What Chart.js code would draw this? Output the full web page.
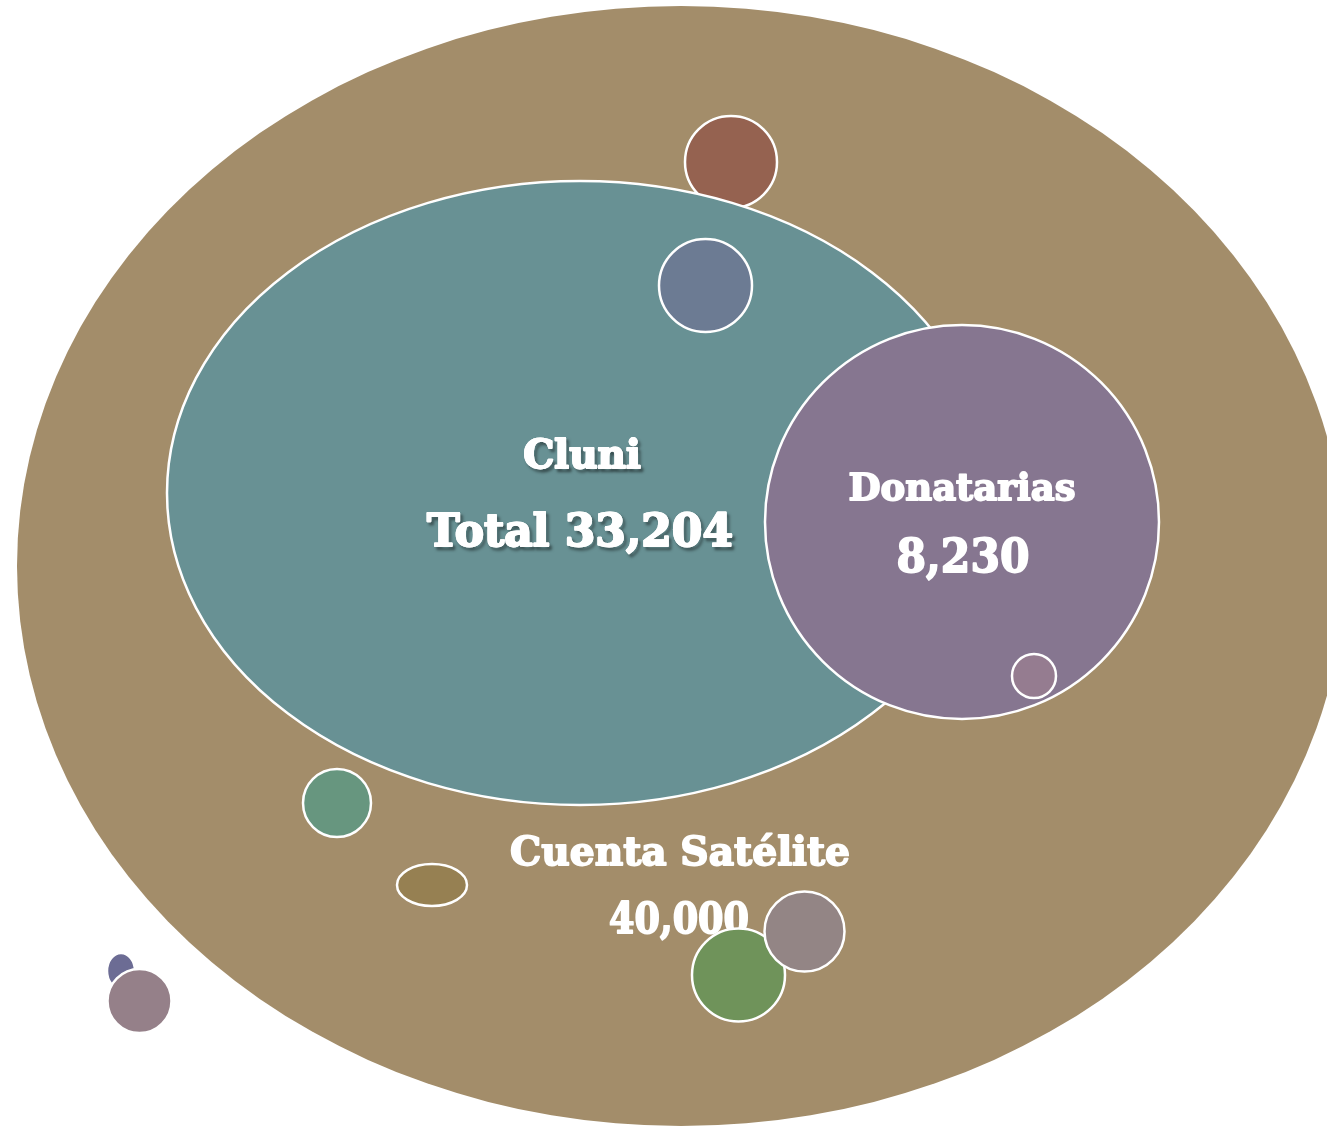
<!DOCTYPE html>
<html>
<head>
<meta charset="utf-8">
<script src="https://cdn.jsdelivr.net/npm/chart.js@4"></script>
<style>
  html, body { margin: 0; padding: 0; background: #ffffff; }
  #wrap { width: 1327px; height: 1127px; }
</style>
</head>
<body>
<div id="wrap"><canvas id="chartCanvas" width="1327" height="1127"></canvas></div>
<script>
// formas (centro y radios en unidades del plano 0..1327 x 0..1127)
const shapeNames = ['Cuenta Satélite', 'Circulo cafe', 'Cluni', 'Circulo azul', 'Donatarias', 'Circulo rosa',
  'Circulo verde agua', 'Elipse olivo', 'Circulo verde', 'Circulo gris', 'Elipse morada', 'Circulo malva'];
const centerX = [681, 731, 580, 705.5, 962, 1034, 337, 432, 738.5, 804.5, 121, 139.5];
const centerY = [566, 162, 493, 285.5, 522, 676, 803, 885, 975, 931.5, 971, 1001];
const radiusX = [664, 46, 413, 46.5, 197, 22, 34, 35, 46.5, 40, 14, 32];
const radiusY = [560, 46, 312, 46.5, 197, 22, 34, 21, 46.5, 40, 18, 32];
const fillColors = ['#a38d6a', '#956250', '#689194', '#6c7b93', '#867690', '#957c90',
  '#67967f', '#968052', '#6f935a', '#938585', '#6c6c94', '#958089'];
const hasBorder = [false, true, true, true, true, true, true, true, true, true, true, true];
// los textos se pintan despues de esta forma
const labelLayer = 7;

// textos
const labelLines = ['Cluni', 'Total 33,204', 'Donatarias', '8,230', 'Cuenta Satélite', '40,000'];
const labelX = [582, 580, 962, 963, 680, 679];
const labelY = [468, 546, 500, 572, 865, 933];
const labelSize = [39, 45, 37, 47, 40, 42];
const labelWidth = [143, 306, 230, 133, 340, 140];
const labelShadow = [true, true, false, false, false, false];

const chartCanvas = document.getElementById('chartCanvas');

function dibujarForma(chart, i) {
  const ctx = chart.ctx;
  const xs = chart.scales.x;
  const ys = chart.scales.y;
  const cx = xs.getPixelForValue(centerX[i]);
  const cy = ys.getPixelForValue(centerY[i]);
  const rx = Math.abs(xs.getPixelForValue(centerX[i] + radiusX[i]) - cx);
  const ry = Math.abs(ys.getPixelForValue(centerY[i] + radiusY[i]) - cy);
  ctx.save();
  ctx.beginPath();
  ctx.ellipse(cx, cy, rx, ry, 0, 0, Math.PI * 2);
  ctx.fillStyle = fillColors[i];
  ctx.fill();
  if (hasBorder[i]) {
    ctx.lineWidth = 2.5;
    ctx.strokeStyle = '#ffffff';
    ctx.stroke();
  }
  ctx.restore();
}

function dibujarTextos(chart) {
  const ctx = chart.ctx;
  const xs = chart.scales.x;
  const ys = chart.scales.y;
  labelLines.forEach((txt, i) => {
    const x = xs.getPixelForValue(labelX[i]);
    const y = ys.getPixelForValue(labelY[i]);
    ctx.save();
    ctx.font = `bold ${labelSize[i]}px "DejaVu Serif", "Liberation Serif", serif`;
    ctx.textAlign = 'center';
    ctx.textBaseline = 'alphabetic';
    ctx.fillStyle = '#ffffff';
    ctx.strokeStyle = '#ffffff';
    ctx.lineWidth = 1.8;
    ctx.lineJoin = 'round';
    if (labelShadow[i]) {
      ctx.shadowColor = 'rgba(0, 0, 0, 0.55)';
      ctx.shadowOffsetX = 2.5;
      ctx.shadowOffsetY = 2.5;
      ctx.shadowBlur = 3;
      ctx.strokeText(txt, x, y, labelWidth[i]);
      ctx.shadowColor = 'rgba(0, 0, 0, 0)';
    }
    ctx.strokeText(txt, x, y, labelWidth[i]);
    ctx.fillText(txt, x, y, labelWidth[i]);
    ctx.restore();
  });
}

const diagramaPlugin = {
  id: 'diagrama',
  beforeDatasetsDraw(chart) {
    for (let i = 0; i < shapeNames.length; i++) {
      dibujarForma(chart, i);
      if (i === labelLayer) dibujarTextos(chart);
    }
  },
};

new Chart(chartCanvas.getContext('2d'), {
  type: 'scatter',
  data: {
    datasets: [
      {
        label: 'Centros',
        data: shapeNames.map((n, i) => ({ x: centerX[i], y: centerY[i] })),
        pointRadius: 0,
        pointHoverRadius: 0,
      },
    ],
  },
  options: {
    responsive: false,
    animation: false,
    events: [],
    layout: { padding: 0 },
    plugins: {
      legend: { display: false },
      tooltip: { enabled: false },
    },
    scales: {
      x: { type: 'linear', min: 0, max: 1327, display: false },
      y: { type: 'linear', min: 0, max: 1127, reverse: true, display: false },
    },
  },
  plugins: [diagramaPlugin],
});
</script>
</body>
</html>
